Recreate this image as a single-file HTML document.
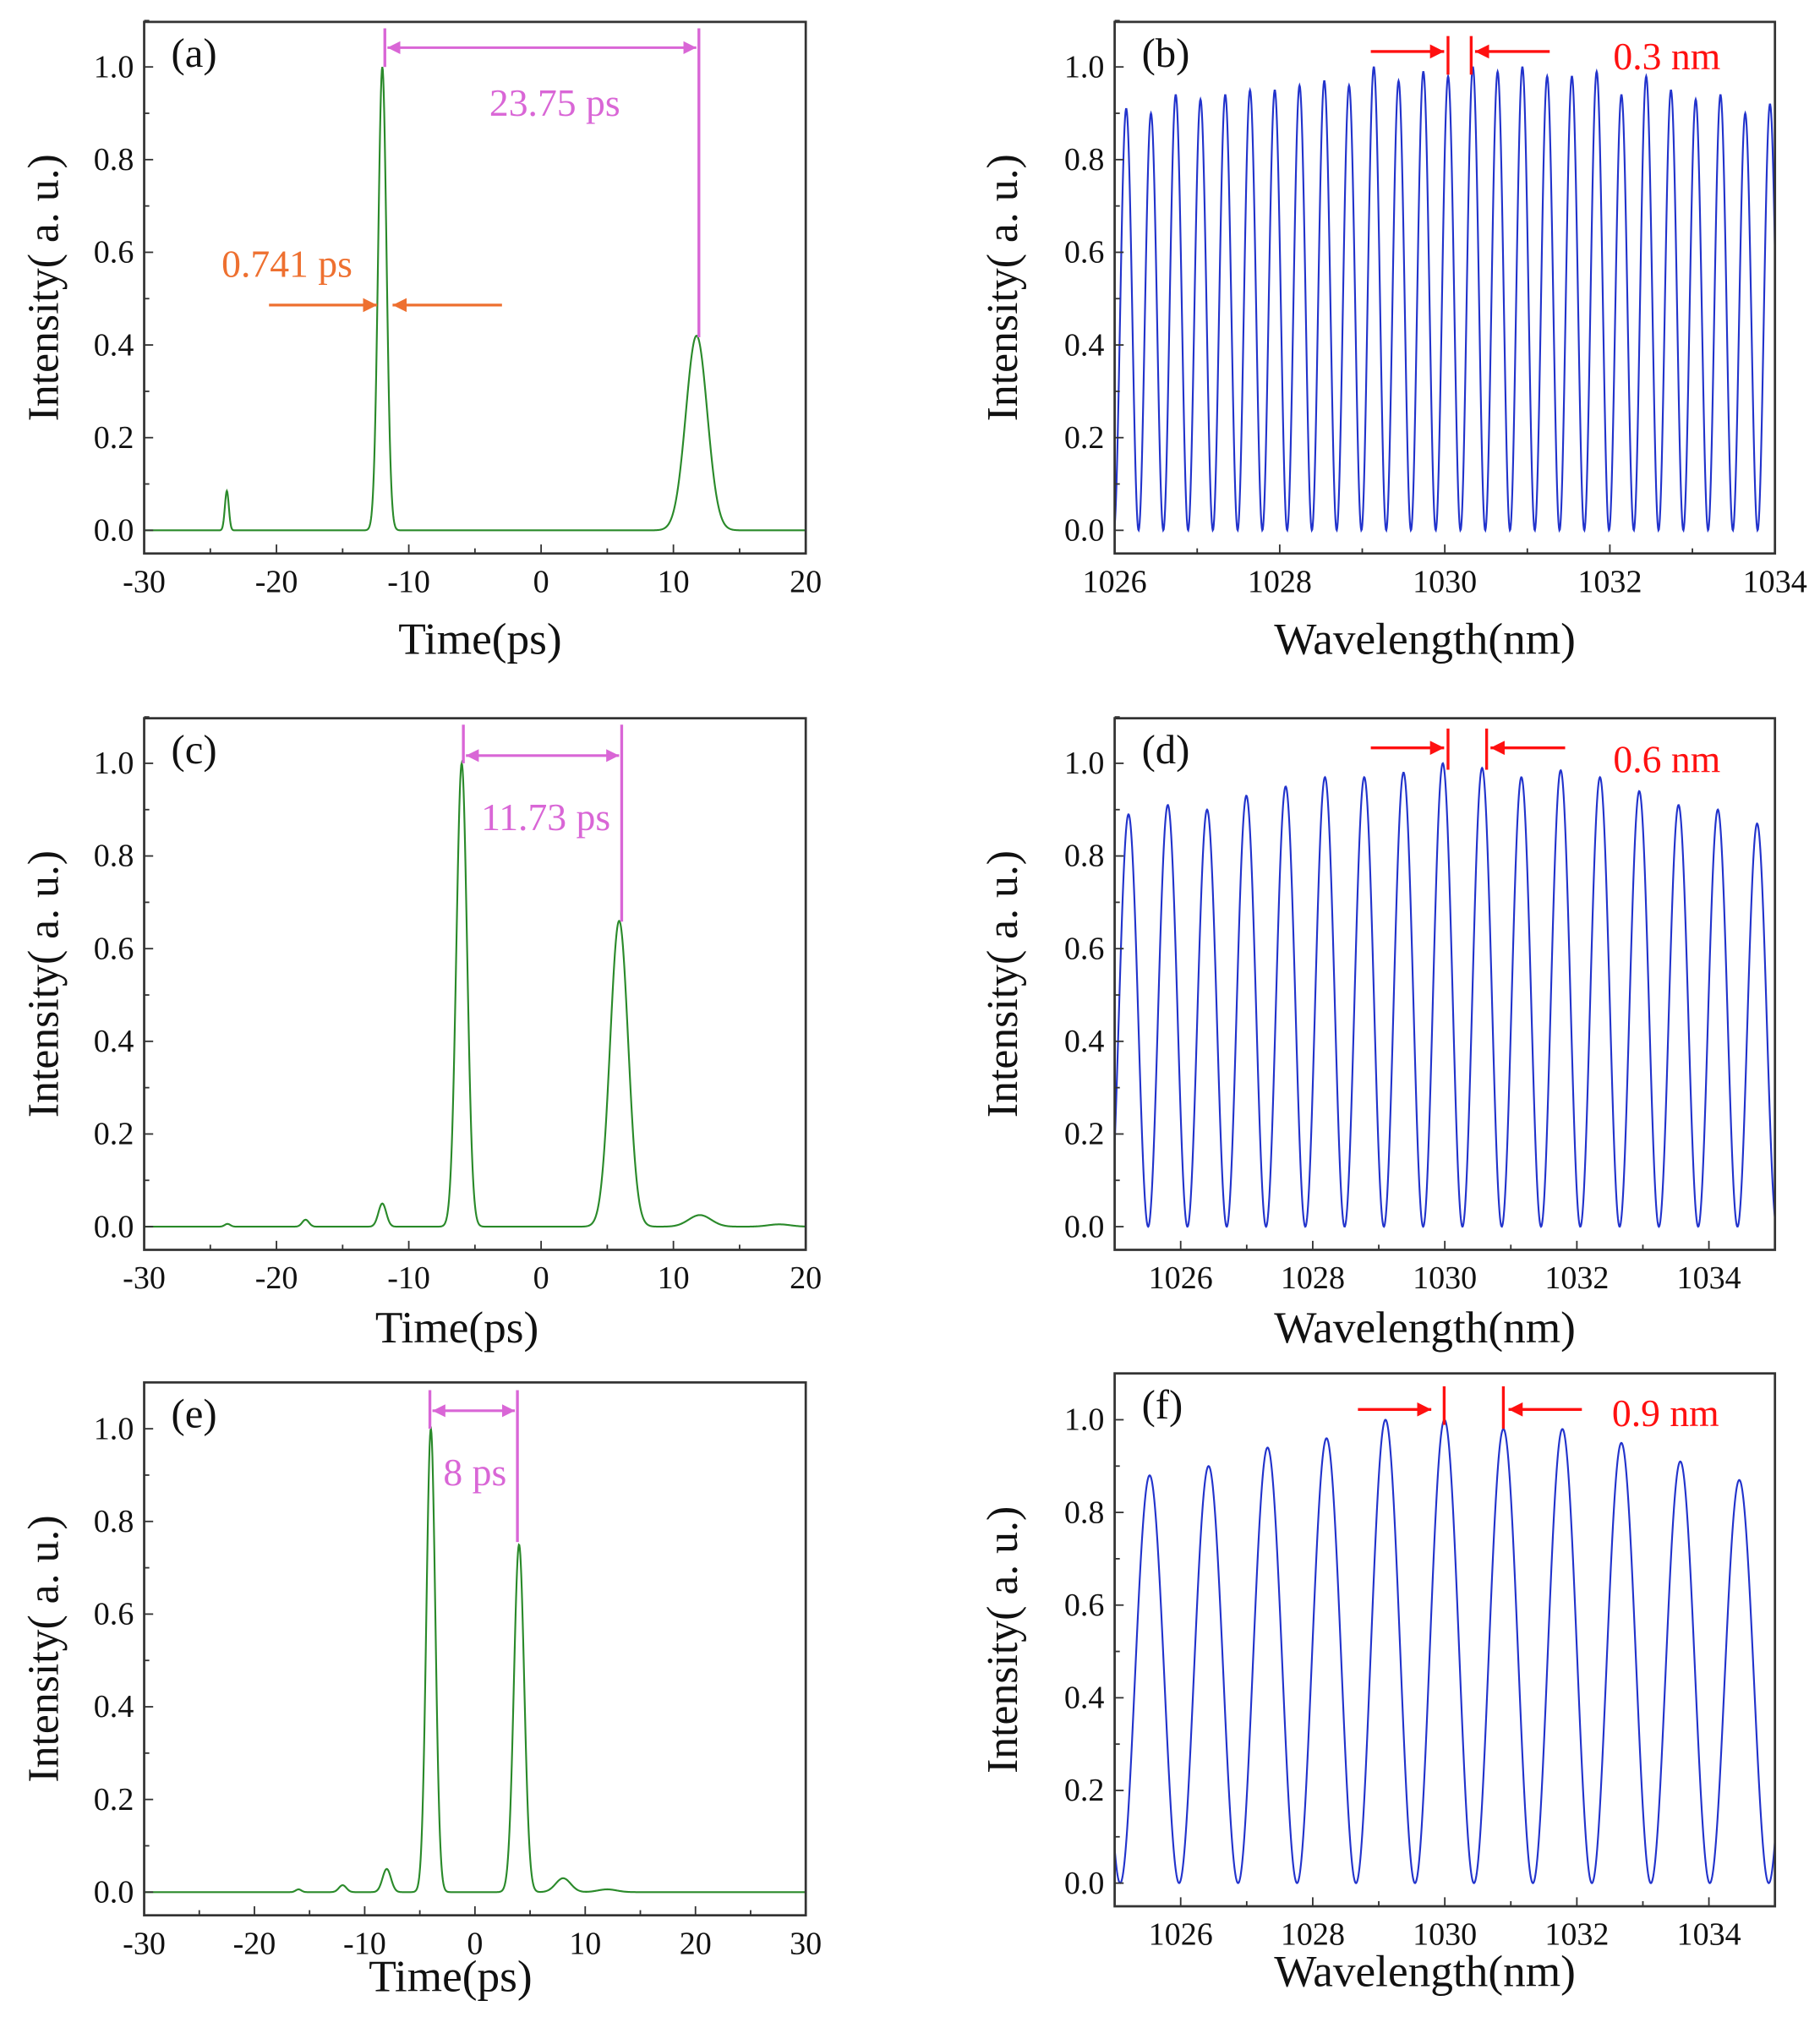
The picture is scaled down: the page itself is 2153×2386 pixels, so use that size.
<!DOCTYPE html>
<html><head><meta charset="utf-8"><style>
html,body{margin:0;padding:0;background:#fff}
svg{display:block}
svg text{font-family:"Liberation Serif","DejaVu Serif",serif !important}
</style></head><body>
<svg id="fig" width="2153" height="2386" viewBox="0 0 1414 1567" font-family="Liberation Serif, serif" xmlns="http://www.w3.org/2000/svg">
<defs>
<marker id="am" viewBox="0 0 10 10" refX="10" refY="5" markerWidth="5" markerHeight="5" orient="auto-start-reverse"><path d="M0,0L10,5L0,10z" fill="#d966d6"/></marker>
<marker id="ao" viewBox="0 0 10 10" refX="10" refY="5" markerWidth="5" markerHeight="5" orient="auto"><path d="M0,0L10,5L0,10z" fill="#ee7030"/></marker>
<marker id="ar" viewBox="0 0 10 10" refX="10" refY="5" markerWidth="5" markerHeight="5" orient="auto"><path d="M0,0L10,5L0,10z" fill="#ff1010"/></marker>
</defs>
</svg>
<script>
// ---- data ----
const pulseA_centers=[-23.75,-12,11.75];
const pulseA_heights=[0.085,1.0,0.42];
const pulseA_fwhm=[0.35,0.741,1.9];
const pulseC_centers=[-23.7,-17.8,-12,-6,5.9,12,18];
const pulseC_heights=[0.006,0.015,0.05,1.0,0.66,0.025,0.005];
const pulseC_fwhm=[0.5,0.6,0.7,0.95,1.6,2.0,2.0];
const pulseE_centers=[-16,-12,-8,-4,4,8,12];
const pulseE_heights=[0.006,0.015,0.05,1.0,0.75,0.03,0.006];
const pulseE_fwhm=[0.6,0.8,0.9,0.95,1.1,1.6,2.0];
const specB_first=1026.14, specB_period=0.3;
const specB_heights=[0.91,0.90,0.94,0.93,0.94,0.95,0.95,0.96,0.97,0.96,1.0,0.97,0.99,0.98,1.0,0.99,1.0,0.98,0.98,0.99,0.94,0.98,0.95,0.93,0.94,0.90,0.92];
const specD_first=1025.21, specD_period=0.595;
const specD_heights=[0.89,0.91,0.90,0.93,0.95,0.97,0.97,0.98,1.0,0.99,0.97,0.985,0.97,0.94,0.91,0.90,0.87];
const specF_first=1025.53, specF_period=0.893;
const specF_heights=[0.88,0.90,0.94,0.96,1.0,1.0,0.98,0.98,0.95,0.91,0.87];

const svg=document.getElementById('fig');
const NS='http://www.w3.org/2000/svg';
function mk(tag,attrs,parent){const e=document.createElementNS(NS,tag);for(const k in attrs)e.setAttribute(k,attrs[k]);(parent||svg).appendChild(e);return e;}
function txt(s,attrs,parent){attrs['font-family']='Liberation Serif, serif';const e=mk('text',attrs,parent);e.textContent=s;return e;}

function panel(o){
  const g=mk('g',{});
  
  
  const L=o.L,R=o.R,T=o.T,B=o.B;
  const sx=v=>L+(v-o.xmin)/(o.xmax-o.xmin)*(R-L);
  const sy=v=>o.y0-(v)*(o.y0-o.y1);
  let d='';const N=1400;
  for(let i=0;i<=N;i++){const x=o.xmin+(o.xmax-o.xmin)*i/N;const y=o.f(x);d+=(i?'L':'M')+sx(x).toFixed(2)+','+sy(y).toFixed(2);}
  const p=mk('path',{d:d,fill:'none',stroke:o.color,'stroke-width':1.4},g);
  
  
  const fr=mk('rect',{x:L,y:T,width:R-L,height:B-T,fill:'none',stroke:'#333','stroke-width':1.8},g);
  
  
  for(let v=Math.ceil(o.xmin/o.xminor)*o.xminor;v<=o.xmax+1e-9;v+=o.xminor){
    const r=((v-o.xbase)/o.xmajor);
    const isMaj=Math.abs(r-Math.round(r))<1e-6;
    const X=sx(v);
    mk('line',{x1:X,x2:X,y1:B,y2:B-(isMaj?7:4),stroke:'#333','stroke-width':1.2},g);
    if(isMaj&&v>o.xmin-1e-9&&(o.edgeLabels||(v>o.xmin+1e-6&&v<o.xmax-1e-6))){const t=txt(String(Math.round(v)),{x:X,y:o.xlabY,'font-size':25,'text-anchor':'middle',fill:'#111'},g);
      
      }
  }
  for(let k=0;k<=11;k++){
    const v=k*0.1;const Y=sy(v);const isMaj=k%2==0;
    mk('line',{x1:L,x2:L+(isMaj?7:4),y1:Y,y2:Y,stroke:'#333','stroke-width':1.2},g);
    if(isMaj&&k<=10){const t=txt(v.toFixed(1),{x:L-8,y:Y+8,'font-size':25,'text-anchor':'end',fill:'#111'},g);
      
      }
  }
  const yt=txt('Intensity( a. u.)',{x:0,y:0,'font-size':34,'text-anchor':'middle',fill:'#111',transform:`translate(${o.ytX},${(T+B)/2}) rotate(-90)`},g);
  
  
  const xt=txt(o.xtitle,{x:o.xtX,y:o.xtY,'font-size':35,'text-anchor':'middle',fill:'#111'},g);
  
  
  const pl=txt(o.label,{x:L+21,y:T+35,'font-size':32,fill:'#111'},g);
  
  
  return g;
}
function pulses(c,h,w){return x=>{let s=0;for(let i=0;i<c.length;i++){const sg=w[i]/2.355;s+=h[i]*Math.exp(-((x-c[i])**2)/(2*sg*sg));}return s;};}
function spectrum(first,P,h){return x=>{const k=Math.round((x-first)/P);const kk=Math.max(0,Math.min(h.length-1,k));const ph=Math.PI*(x-(first+k*P))/P;return h[kk]*Math.pow(Math.cos(ph),2);};}

panel({name:'panel-a',L:112,R:626,T:17,B:430,xmin:-30,xmax:20,xbase:0,xmajor:10,xminor:5,edgeLabels:true,y0:412,y1:52,color:'#2a8a2a',f:pulses(pulseA_centers,pulseA_heights,pulseA_fwhm),xlabY:460,xtitle:'Time(ps)',xtX:373,xtY:508,ytX:45,label:'(a)'});
panel({name:'panel-b',L:866,R:1379,T:17,B:430,xmin:1026,xmax:1034,xbase:1026,xmajor:2,xminor:1,edgeLabels:true,y0:412,y1:52,color:'#2233cc',f:spectrum(specB_first,specB_period,specB_heights),xlabY:460,xtitle:'Wavelength(nm)',xtX:1107,xtY:508,ytX:790,label:'(b)'});
panel({name:'panel-c',L:112,R:626,T:558,B:971,xmin:-30,xmax:20,xbase:0,xmajor:10,xminor:5,edgeLabels:true,y0:953,y1:593,color:'#2a8a2a',f:pulses(pulseC_centers,pulseC_heights,pulseC_fwhm),xlabY:1001,xtitle:'Time(ps)',xtX:355,xtY:1043,ytX:45,label:'(c)'});
panel({name:'panel-d',L:866,R:1379,T:558,B:971,xmin:1025,xmax:1035,xbase:1026,xmajor:2,xminor:1,edgeLabels:false,y0:953,y1:593,color:'#2233cc',f:spectrum(specD_first,specD_period,specD_heights),xlabY:1001,xtitle:'Wavelength(nm)',xtX:1107,xtY:1043,ytX:790,label:'(d)'});
panel({name:'panel-e',L:112,R:626,T:1074,B:1488,xmin:-30,xmax:30,xbase:0,xmajor:10,xminor:5,edgeLabels:true,y0:1470,y1:1110,color:'#2a8a2a',f:pulses(pulseE_centers,pulseE_heights,pulseE_fwhm),xlabY:1518,xtitle:'Time(ps)',xtX:350,xtY:1547,ytX:45,label:'(e)'});
panel({name:'panel-f',L:866,R:1379,T:1067,B:1481,xmin:1025,xmax:1035,xbase:1026,xmajor:2,xminor:1,edgeLabels:false,y0:1463,y1:1103,color:'#2233cc',f:spectrum(specF_first,specF_period,specF_heights),xlabY:1511,xtitle:'Wavelength(nm)',xtX:1107,xtY:1543,ytX:790,label:'(f)'});

function ann(){
  const M='#d966d6',O='#ee7030',Rd='#ff1010';
  function ln(x1,y1,x2,y2,c,w,mkr,name,extra){const e=mk('line',Object.assign({x1,y1,x2,y2,stroke:c,'stroke-width':w},extra||{}));
    
    
    if(mkr){e.setAttribute('marker-end',mkr);}return e;}
  function t(s,x,y,c,name){const e=txt(s,{x,y,'font-size':30,fill:c,'text-anchor':'middle'});
    
    }
  ln(299,22,299,52,M,2.2,null,'marker-line');ln(543,22,543,262,M,2.2,null,'marker-line');
  ln(301,37,541,37,M,2,null,'span-arrow',{'marker-start':'url(#am)','marker-end':'url(#am)'});
  t('23.75 ps',431,90,M,'spacing-label');
  ln(209,237,293,237,O,2.2,'url(#ao)','fwhm-arrow-left');ln(390,237,305,237,O,2.2,'url(#ao)','fwhm-arrow-right');
  t('0.741 ps',223,215,O,'fwhm-label');
  ln(1125,28,1125,58,Rd,2.2,null,'marker-line');ln(1143,28,1143,58,Rd,2.2,null,'marker-line');
  ln(1065,40,1122,40,Rd,2.2,'url(#ar)','arrow-left');ln(1204,40,1146,40,Rd,2.2,'url(#ar)','arrow-right');
  t('0.3 nm',1295,54,Rd,'spacing-label');
  ln(360,563,360,593,M,2.2,null,'marker-line');ln(483,563,483,716,M,2.2,null,'marker-line');
  ln(362,587,481,587,M,2,null,'span-arrow',{'marker-start':'url(#am)','marker-end':'url(#am)'});
  t('11.73 ps',424,645,M,'spacing-label');
  ln(1125,566,1125,598,Rd,2.2,null,'marker-line');ln(1155,566,1155,598,Rd,2.2,null,'marker-line');
  ln(1065,581,1122,581,Rd,2.2,'url(#ar)','arrow-left');ln(1216,581,1158,581,Rd,2.2,'url(#ar)','arrow-right');
  t('0.6 nm',1295,600,Rd,'spacing-label');
  ln(334,1080,334,1110,M,2.2,null,'marker-line');ln(402,1080,402,1198,M,2.2,null,'marker-line');
  ln(336,1096,400,1096,M,2,null,'span-arrow',{'marker-start':'url(#am)','marker-end':'url(#am)'});
  t('8 ps',369,1154,M,'spacing-label');
  ln(1122,1077,1122,1107,Rd,2.2,null,'marker-line');ln(1168,1077,1168,1110,Rd,2.2,null,'marker-line');
  ln(1055,1095,1112,1095,Rd,2.2,'url(#ar)','arrow-left');ln(1229,1095,1172,1095,Rd,2.2,'url(#ar)','arrow-right');
  t('0.9 nm',1294,1108,Rd,'spacing-label');
}
ann();
</script>
</body></html>
